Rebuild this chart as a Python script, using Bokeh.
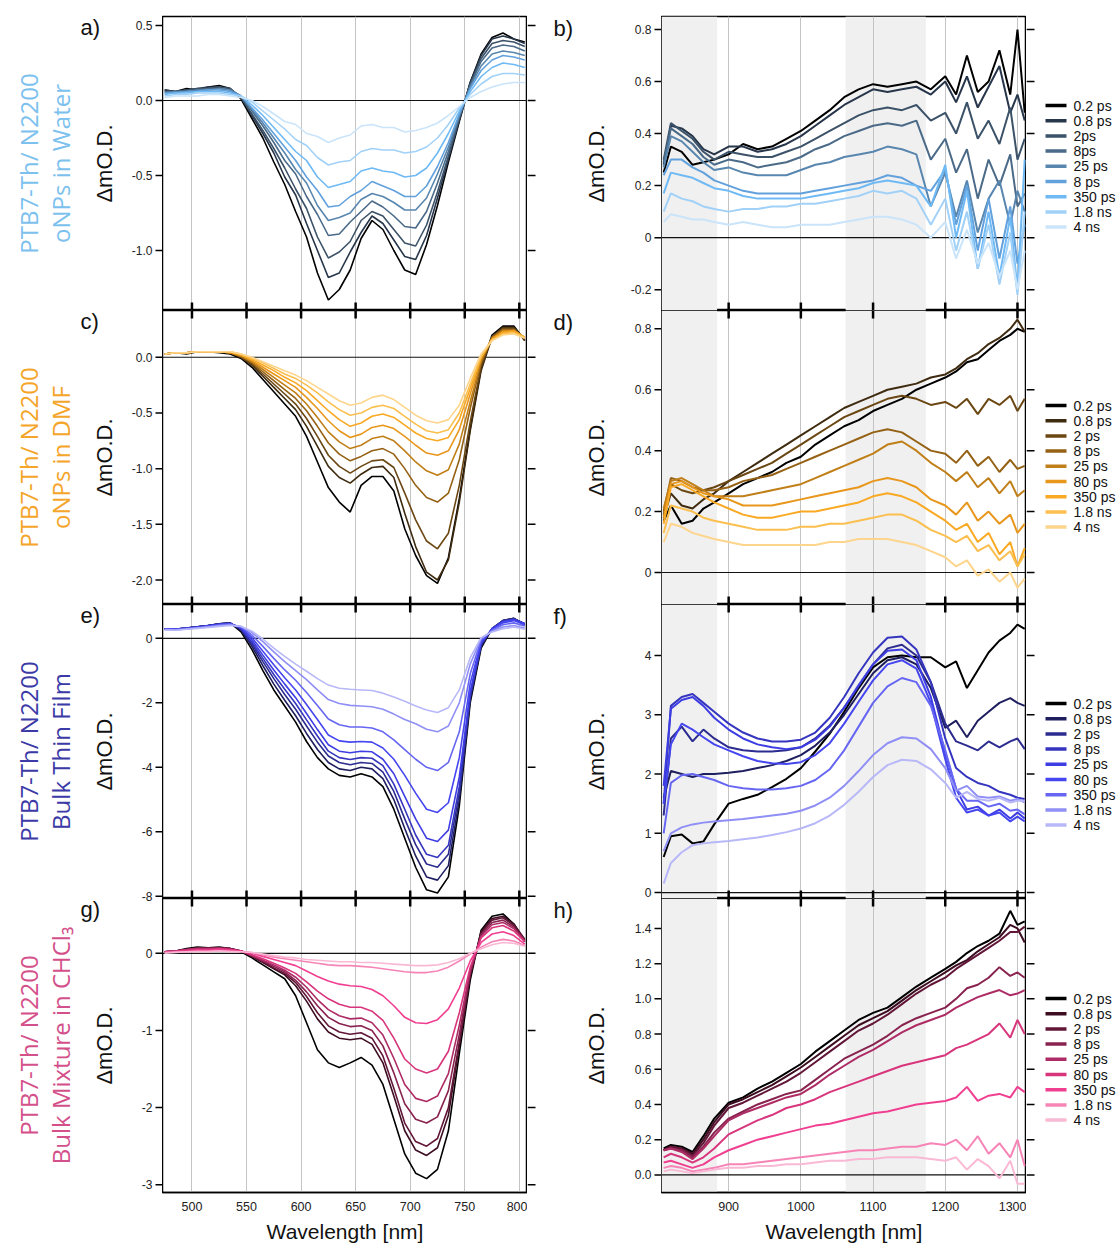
from math import pi
from bokeh.plotting import figure
from bokeh.models import Range1d, FixedTicker, Span, BoxAnnotation, Grid
from bokeh.core.properties import value
from bokeh.layouts import column, row
from bokeh.embed import file_html
from bokeh.resources import INLINE

# ---------------- data ----------------
X_L = [475, 485, 495, 505, 515, 525, 535, 545, 555, 565, 575, 585, 595, 605, 615, 625, 635,
       645, 655, 665, 675, 685, 695, 705, 715, 725, 735, 745, 755, 765, 775, 785, 795, 805]
X_R = [810, 820, 835, 850, 865, 880, 900, 920, 940, 960, 980, 1000, 1020, 1040, 1060, 1080,
       1100, 1120, 1140, 1160, 1180, 1200, 1215, 1230, 1245, 1260, 1275, 1290, 1300, 1310]

DELAYS_B = ["0.2 ps", "0.8 ps", "2ps", "8ps", "25 ps", "8 ps", "350 ps", "1.8 ns", "4 ns"]
DELAYS = ["0.2 ps", "0.8 ps", "2 ps", "8 ps", "25 ps", "80 ps", "350 ps", "1.8 ns", "4 ns"]

A_SERIES = [
    [0.07, 0.06, 0.08, 0.07, 0.09, 0.10, 0.08, 0.01, -0.12, -0.25, -0.41, -0.56, -0.74, -0.91, -1.15, -1.33, -1.26, -1.13, -0.92, -0.80, -0.86, -1.00, -1.13, -1.16, -0.96, -0.70, -0.41, -0.14, 0.12, 0.31, 0.42, 0.45, 0.41, 0.39],
    [0.07, 0.06, 0.07, 0.08, 0.09, 0.09, 0.08, 0.02, -0.10, -0.22, -0.35, -0.51, -0.63, -0.82, -1.00, -1.18, -1.15, -1.01, -0.88, -0.77, -0.82, -0.93, -1.04, -1.06, -0.90, -0.65, -0.39, -0.13, 0.12, 0.30, 0.41, 0.43, 0.41, 0.38],
    [0.06, 0.06, 0.07, 0.08, 0.08, 0.09, 0.08, 0.02, -0.09, -0.20, -0.32, -0.45, -0.59, -0.72, -0.91, -1.05, -1.01, -0.94, -0.80, -0.74, -0.77, -0.86, -0.95, -0.97, -0.83, -0.61, -0.37, -0.12, 0.11, 0.28, 0.38, 0.40, 0.39, 0.36],
    [0.06, 0.06, 0.06, 0.07, 0.08, 0.08, 0.07, 0.03, -0.07, -0.17, -0.28, -0.40, -0.49, -0.64, -0.76, -0.90, -0.89, -0.81, -0.74, -0.67, -0.71, -0.77, -0.84, -0.85, -0.74, -0.55, -0.34, -0.11, 0.10, 0.26, 0.35, 0.37, 0.36, 0.33],
    [0.05, 0.06, 0.06, 0.07, 0.07, 0.08, 0.07, 0.03, -0.06, -0.15, -0.25, -0.35, -0.46, -0.55, -0.70, -0.80, -0.78, -0.75, -0.66, -0.62, -0.64, -0.68, -0.73, -0.73, -0.65, -0.49, -0.31, -0.10, 0.09, 0.23, 0.31, 0.33, 0.32, 0.30],
    [0.05, 0.05, 0.06, 0.06, 0.07, 0.07, 0.06, 0.03, -0.05, -0.13, -0.22, -0.31, -0.40, -0.51, -0.60, -0.71, -0.70, -0.64, -0.60, -0.54, -0.57, -0.60, -0.64, -0.64, -0.57, -0.44, -0.28, -0.09, 0.08, 0.20, 0.27, 0.30, 0.29, 0.27],
    [0.04, 0.05, 0.05, 0.06, 0.06, 0.06, 0.05, 0.03, -0.03, -0.10, -0.18, -0.26, -0.34, -0.40, -0.51, -0.58, -0.56, -0.54, -0.47, -0.45, -0.47, -0.48, -0.51, -0.50, -0.45, -0.35, -0.22, -0.07, 0.06, 0.16, 0.22, 0.25, 0.24, 0.22],
    [0.03, 0.04, 0.04, 0.05, 0.05, 0.05, 0.04, 0.03, -0.01, -0.07, -0.13, -0.19, -0.26, -0.30, -0.38, -0.43, -0.41, -0.40, -0.34, -0.32, -0.33, -0.33, -0.35, -0.34, -0.31, -0.25, -0.16, -0.05, 0.04, 0.11, 0.16, 0.18, 0.18, 0.17],
    [0.02, 0.03, 0.03, 0.03, 0.04, 0.04, 0.03, 0.02, 0.00, -0.04, -0.09, -0.14, -0.16, -0.22, -0.24, -0.28, -0.25, -0.23, -0.17, -0.16, -0.18, -0.18, -0.21, -0.20, -0.18, -0.15, -0.10, -0.04, 0.02, 0.06, 0.09, 0.11, 0.12, 0.12],
]

B_SERIES = [
    [0.25, 0.35, 0.33, 0.28, 0.29, 0.30, 0.32, 0.36, 0.34, 0.35, 0.38, 0.41, 0.45, 0.49, 0.54, 0.57, 0.59, 0.58, 0.59, 0.60, 0.57, 0.62, 0.55, 0.70, 0.56, 0.60, 0.72, 0.55, 0.80, 0.48],
    [0.28, 0.43, 0.42, 0.39, 0.34, 0.32, 0.35, 0.35, 0.33, 0.34, 0.36, 0.39, 0.43, 0.47, 0.51, 0.54, 0.57, 0.56, 0.57, 0.58, 0.55, 0.60, 0.52, 0.62, 0.50, 0.58, 0.66, 0.48, 0.55, 0.45],
    [0.30, 0.44, 0.41, 0.38, 0.33, 0.30, 0.33, 0.32, 0.31, 0.31, 0.33, 0.35, 0.38, 0.41, 0.44, 0.47, 0.49, 0.50, 0.49, 0.51, 0.45, 0.48, 0.40, 0.52, 0.38, 0.45, 0.36, 0.50, 0.30, 0.38],
    [0.29, 0.42, 0.39, 0.36, 0.31, 0.28, 0.30, 0.29, 0.27, 0.28, 0.29, 0.31, 0.34, 0.36, 0.39, 0.41, 0.43, 0.44, 0.43, 0.45, 0.30, 0.38, 0.25, 0.34, 0.15, 0.30, 0.20, 0.32, 0.12, 0.17],
    [0.27, 0.39, 0.37, 0.33, 0.29, 0.26, 0.27, 0.25, 0.24, 0.24, 0.24, 0.26, 0.28, 0.29, 0.31, 0.32, 0.33, 0.35, 0.34, 0.32, 0.12, 0.25, 0.08, 0.22, 0.02, 0.15, 0.22, 0.05, 0.18, 0.10],
    [0.24, 0.30, 0.30, 0.27, 0.25, 0.22, 0.20, 0.18, 0.17, 0.17, 0.17, 0.17, 0.18, 0.19, 0.20, 0.21, 0.22, 0.24, 0.23, 0.20, 0.18, 0.26, 0.05, 0.20, -0.05, 0.15, -0.08, 0.12, -0.10, 0.05],
    [0.17, 0.25, 0.24, 0.23, 0.21, 0.19, 0.18, 0.16, 0.15, 0.15, 0.15, 0.15, 0.16, 0.17, 0.18, 0.19, 0.21, 0.22, 0.21, 0.20, 0.12, 0.28, 0.00, 0.18, -0.12, 0.10, -0.15, 0.08, -0.20, 0.30],
    [0.10, 0.17, 0.15, 0.14, 0.12, 0.11, 0.10, 0.11, 0.11, 0.12, 0.12, 0.13, 0.13, 0.14, 0.15, 0.16, 0.18, 0.17, 0.18, 0.15, 0.05, 0.15, -0.05, 0.10, -0.12, 0.05, -0.18, 0.02, -0.22, 0.10],
    [0.06, 0.09, 0.08, 0.07, 0.07, 0.06, 0.05, 0.06, 0.05, 0.04, 0.04, 0.05, 0.05, 0.05, 0.06, 0.07, 0.08, 0.08, 0.07, 0.05, 0.00, 0.06, -0.08, 0.03, -0.10, -0.02, -0.15, -0.05, -0.20, -0.05],
]

C_SERIES = [
    [0.03, 0.04, 0.03, 0.05, 0.05, 0.04, 0.03, -0.01, -0.09, -0.20, -0.31, -0.42, -0.53, -0.71, -0.94, -1.17, -1.30, -1.39, -1.15, -1.07, -1.07, -1.20, -1.54, -1.78, -1.96, -2.03, -1.80, -1.27, -0.64, -0.10, 0.20, 0.28, 0.28, 0.15],
    [0.03, 0.04, 0.04, 0.05, 0.05, 0.05, 0.04, 0.00, -0.07, -0.17, -0.27, -0.37, -0.47, -0.62, -0.80, -0.98, -1.08, -1.13, -1.05, -0.99, -0.98, -1.08, -1.40, -1.70, -1.93, -2.00, -1.82, -1.30, -0.66, -0.12, 0.18, 0.27, 0.27, 0.15],
    [0.03, 0.04, 0.04, 0.05, 0.05, 0.05, 0.04, 0.00, -0.06, -0.15, -0.24, -0.33, -0.42, -0.55, -0.71, -0.88, -0.98, -1.04, -0.98, -0.93, -0.92, -0.99, -1.22, -1.46, -1.65, -1.72, -1.58, -1.15, -0.58, -0.08, 0.18, 0.26, 0.26, 0.16],
    [0.03, 0.04, 0.04, 0.05, 0.05, 0.05, 0.04, 0.01, -0.05, -0.13, -0.21, -0.29, -0.37, -0.48, -0.62, -0.77, -0.87, -0.93, -0.89, -0.84, -0.82, -0.87, -1.00, -1.15, -1.26, -1.30, -1.22, -0.92, -0.46, -0.05, 0.18, 0.25, 0.25, 0.17],
    [0.03, 0.04, 0.04, 0.05, 0.05, 0.05, 0.04, 0.01, -0.04, -0.11, -0.18, -0.25, -0.32, -0.42, -0.54, -0.67, -0.76, -0.82, -0.79, -0.73, -0.71, -0.75, -0.84, -0.94, -1.02, -1.06, -1.01, -0.78, -0.40, -0.03, 0.17, 0.24, 0.24, 0.17],
    [0.03, 0.04, 0.04, 0.05, 0.05, 0.05, 0.04, 0.02, -0.03, -0.09, -0.15, -0.21, -0.27, -0.36, -0.46, -0.57, -0.66, -0.72, -0.69, -0.63, -0.61, -0.64, -0.71, -0.79, -0.86, -0.88, -0.84, -0.65, -0.33, -0.01, 0.17, 0.23, 0.24, 0.18],
    [0.03, 0.04, 0.04, 0.05, 0.05, 0.05, 0.05, 0.02, -0.02, -0.07, -0.12, -0.18, -0.23, -0.30, -0.39, -0.48, -0.56, -0.62, -0.59, -0.53, -0.51, -0.54, -0.61, -0.68, -0.73, -0.75, -0.72, -0.56, -0.28, 0.00, 0.16, 0.22, 0.23, 0.18],
    [0.03, 0.04, 0.04, 0.05, 0.05, 0.05, 0.05, 0.03, -0.01, -0.05, -0.10, -0.15, -0.19, -0.25, -0.32, -0.40, -0.47, -0.52, -0.50, -0.45, -0.43, -0.46, -0.53, -0.60, -0.66, -0.68, -0.65, -0.50, -0.24, 0.01, 0.15, 0.21, 0.22, 0.18],
    [0.03, 0.04, 0.04, 0.05, 0.05, 0.05, 0.05, 0.03, 0.00, -0.04, -0.08, -0.12, -0.16, -0.21, -0.27, -0.33, -0.39, -0.43, -0.41, -0.36, -0.34, -0.38, -0.45, -0.52, -0.57, -0.59, -0.56, -0.43, -0.19, 0.03, 0.15, 0.20, 0.21, 0.17],
]

D_SERIES = [
    [0.17, 0.22, 0.16, 0.17, 0.21, 0.23, 0.26, 0.29, 0.31, 0.33, 0.36, 0.38, 0.42, 0.45, 0.48, 0.50, 0.53, 0.55, 0.57, 0.60, 0.62, 0.64, 0.66, 0.69, 0.70, 0.73, 0.76, 0.78, 0.80, 0.79],
    [0.18, 0.26, 0.22, 0.21, 0.24, 0.26, 0.30, 0.33, 0.36, 0.39, 0.42, 0.45, 0.48, 0.51, 0.54, 0.56, 0.58, 0.60, 0.61, 0.62, 0.64, 0.65, 0.67, 0.70, 0.72, 0.75, 0.77, 0.80, 0.83, 0.79],
    [0.19, 0.29, 0.27, 0.26, 0.27, 0.28, 0.30, 0.32, 0.34, 0.36, 0.39, 0.42, 0.45, 0.48, 0.51, 0.53, 0.55, 0.57, 0.58, 0.57, 0.55, 0.56, 0.54, 0.57, 0.52, 0.57, 0.55, 0.58, 0.53, 0.57],
    [0.20, 0.31, 0.30, 0.28, 0.27, 0.27, 0.28, 0.30, 0.31, 0.32, 0.34, 0.36, 0.38, 0.40, 0.42, 0.44, 0.46, 0.47, 0.46, 0.43, 0.40, 0.39, 0.36, 0.40, 0.35, 0.38, 0.33, 0.37, 0.34, 0.35],
    [0.21, 0.30, 0.31, 0.29, 0.27, 0.25, 0.25, 0.25, 0.26, 0.27, 0.28, 0.29, 0.31, 0.33, 0.35, 0.37, 0.39, 0.42, 0.43, 0.40, 0.36, 0.33, 0.30, 0.33, 0.28, 0.31, 0.26, 0.30, 0.25, 0.27],
    [0.18, 0.29, 0.30, 0.28, 0.26, 0.25, 0.24, 0.22, 0.22, 0.22, 0.23, 0.24, 0.25, 0.26, 0.27, 0.28, 0.30, 0.31, 0.30, 0.28, 0.24, 0.22, 0.19, 0.23, 0.17, 0.20, 0.16, 0.19, 0.13, 0.16],
    [0.16, 0.28, 0.29, 0.27, 0.25, 0.23, 0.21, 0.19, 0.18, 0.18, 0.19, 0.20, 0.20, 0.21, 0.22, 0.23, 0.25, 0.26, 0.25, 0.23, 0.20, 0.17, 0.14, 0.16, 0.10, 0.13, 0.06, 0.10, 0.02, 0.08],
    [0.13, 0.22, 0.21, 0.20, 0.18, 0.17, 0.16, 0.15, 0.14, 0.14, 0.14, 0.15, 0.15, 0.16, 0.16, 0.17, 0.18, 0.19, 0.19, 0.17, 0.14, 0.12, 0.10, 0.12, 0.07, 0.09, 0.04, 0.07, 0.02, 0.06],
    [0.10, 0.16, 0.15, 0.13, 0.12, 0.11, 0.10, 0.09, 0.09, 0.09, 0.09, 0.09, 0.09, 0.10, 0.10, 0.11, 0.11, 0.11, 0.10, 0.09, 0.07, 0.05, 0.02, 0.04, -0.01, 0.01, -0.03, 0.00, -0.05, -0.02],
]

E_SERIES = [
    [0.30, 0.28, 0.32, 0.36, 0.40, 0.45, 0.48, 0.20, -0.35, -1.00, -1.60, -2.10, -2.60, -3.20, -3.70, -4.05, -4.25, -4.30, -4.20, -4.30, -4.60, -5.30, -6.20, -7.10, -7.80, -7.90, -7.40, -5.20, -2.00, -0.30, 0.30, 0.55, 0.62, 0.40],
    [0.30, 0.28, 0.32, 0.36, 0.40, 0.45, 0.48, 0.25, -0.25, -0.85, -1.42, -1.92, -2.40, -2.95, -3.45, -3.85, -4.05, -4.10, -4.00, -4.05, -4.35, -5.00, -5.90, -6.75, -7.40, -7.50, -7.05, -5.00, -1.90, -0.25, 0.30, 0.55, 0.62, 0.45],
    [0.30, 0.29, 0.32, 0.36, 0.40, 0.44, 0.47, 0.28, -0.18, -0.72, -1.25, -1.74, -2.20, -2.72, -3.22, -3.65, -3.85, -3.92, -3.85, -3.88, -4.15, -4.75, -5.60, -6.40, -7.00, -7.10, -6.70, -4.80, -1.80, -0.20, 0.30, 0.55, 0.60, 0.45],
    [0.30, 0.29, 0.32, 0.35, 0.40, 0.44, 0.47, 0.30, -0.12, -0.62, -1.12, -1.58, -2.02, -2.53, -3.03, -3.50, -3.70, -3.76, -3.70, -3.72, -3.95, -4.52, -5.30, -6.10, -6.70, -6.80, -6.42, -4.60, -1.75, -0.18, 0.30, 0.54, 0.60, 0.45],
    [0.30, 0.29, 0.31, 0.35, 0.39, 0.43, 0.46, 0.32, -0.05, -0.52, -0.98, -1.42, -1.84, -2.33, -2.83, -3.30, -3.50, -3.55, -3.50, -3.52, -3.75, -4.20, -4.90, -5.60, -6.20, -6.30, -5.95, -4.30, -1.65, -0.15, 0.30, 0.52, 0.58, 0.45],
    [0.29, 0.28, 0.31, 0.34, 0.38, 0.42, 0.45, 0.34, 0.02, -0.40, -0.82, -1.22, -1.60, -2.05, -2.52, -3.00, -3.18, -3.22, -3.20, -3.22, -3.40, -3.75, -4.25, -4.80, -5.30, -5.40, -5.10, -3.70, -1.40, -0.10, 0.28, 0.48, 0.55, 0.42],
    [0.28, 0.27, 0.30, 0.33, 0.37, 0.41, 0.44, 0.36, 0.10, -0.25, -0.62, -0.98, -1.30, -1.68, -2.08, -2.50, -2.68, -2.75, -2.75, -2.78, -2.90, -3.15, -3.45, -3.75, -4.00, -4.10, -3.85, -2.90, -1.10, -0.05, 0.25, 0.42, 0.48, 0.38],
    [0.27, 0.26, 0.29, 0.32, 0.35, 0.39, 0.42, 0.37, 0.18, -0.10, -0.42, -0.72, -1.00, -1.28, -1.60, -1.90, -2.02, -2.08, -2.10, -2.12, -2.20, -2.35, -2.52, -2.65, -2.82, -2.90, -2.72, -2.00, -0.80, 0.00, 0.22, 0.35, 0.40, 0.32],
    [0.26, 0.25, 0.28, 0.31, 0.34, 0.37, 0.40, 0.37, 0.22, -0.02, -0.30, -0.56, -0.80, -1.02, -1.25, -1.45, -1.55, -1.58, -1.60, -1.62, -1.70, -1.82, -1.95, -2.10, -2.22, -2.30, -2.15, -1.60, -0.60, 0.02, 0.20, 0.30, 0.35, 0.28],
]

F_SERIES = [
    [0.60, 0.95, 0.98, 0.83, 0.86, 1.15, 1.50, 1.58, 1.65, 1.78, 1.92, 2.10, 2.38, 2.68, 3.05, 3.45, 3.80, 3.97, 4.00, 3.97, 3.97, 3.80, 3.90, 3.45, 3.75, 4.05, 4.25, 4.38, 4.52, 4.45],
    [1.60, 2.05, 2.00, 1.95, 2.00, 2.00, 2.02, 2.05, 2.10, 2.15, 2.22, 2.32, 2.48, 2.70, 3.00, 3.35, 3.70, 3.92, 3.97, 3.85, 3.45, 2.78, 2.90, 2.62, 2.90, 3.05, 3.20, 3.28, 3.20, 3.15],
    [1.30, 2.60, 2.80, 2.55, 2.75, 2.60, 2.45, 2.40, 2.38, 2.38, 2.40, 2.45, 2.60, 2.82, 3.12, 3.48, 3.85, 4.12, 4.18, 4.00, 3.55, 2.85, 2.55, 2.48, 2.40, 2.55, 2.45, 2.55, 2.60, 2.42],
    [1.50, 3.15, 3.30, 3.35, 3.20, 3.05, 2.85, 2.70, 2.60, 2.55, 2.55, 2.58, 2.70, 2.95, 3.30, 3.70, 4.05, 4.30, 4.32, 4.10, 3.55, 2.60, 2.10, 1.95, 1.85, 1.80, 1.70, 1.65, 1.60, 1.58],
    [1.80, 3.10, 3.25, 3.30, 3.15, 2.95, 2.75, 2.60, 2.50, 2.45, 2.42, 2.45, 2.58, 2.80, 3.12, 3.50, 3.85, 4.08, 4.10, 3.92, 3.30, 2.35, 1.75, 1.40, 1.45, 1.30, 1.40, 1.25, 1.35, 1.25],
    [1.50, 2.50, 2.85, 2.75, 2.62, 2.50, 2.40, 2.30, 2.22, 2.18, 2.17, 2.20, 2.32, 2.52, 2.85, 3.22, 3.58, 3.85, 3.92, 3.78, 3.20, 2.25, 1.60, 1.35, 1.40, 1.30, 1.35, 1.20, 1.28, 1.20],
    [1.00, 1.85, 1.98, 2.00, 1.95, 1.90, 1.80, 1.76, 1.74, 1.74, 1.76, 1.80, 1.90, 2.08, 2.40, 2.80, 3.20, 3.48, 3.62, 3.55, 3.15, 2.40, 1.75, 1.55, 1.55, 1.45, 1.50, 1.38, 1.40, 1.32],
    [0.70, 1.00, 1.10, 1.15, 1.18, 1.20, 1.22, 1.24, 1.27, 1.30, 1.33, 1.38, 1.47, 1.60, 1.80, 2.05, 2.32, 2.52, 2.62, 2.60, 2.42, 2.10, 1.72, 1.80, 1.62, 1.60, 1.62, 1.55, 1.58, 1.52],
    [0.15, 0.50, 0.68, 0.80, 0.83, 0.85, 0.87, 0.90, 0.93, 0.97, 1.02, 1.08, 1.17, 1.30, 1.48, 1.70, 1.95, 2.15, 2.24, 2.22, 2.08, 1.85, 1.60, 1.70, 1.58, 1.55, 1.60, 1.52, 1.55, 1.55],
]

G_SERIES = [
    [0.02, 0.03, 0.06, 0.08, 0.07, 0.08, 0.06, 0.02, -0.06, -0.15, -0.24, -0.33, -0.55, -0.90, -1.25, -1.42, -1.48, -1.42, -1.35, -1.45, -1.70, -2.15, -2.60, -2.85, -2.92, -2.80, -2.30, -1.30, -0.35, 0.30, 0.48, 0.51, 0.38, 0.15],
    [0.02, 0.03, 0.05, 0.07, 0.07, 0.07, 0.06, 0.03, -0.04, -0.12, -0.20, -0.28, -0.42, -0.62, -0.85, -1.02, -1.10, -1.12, -1.10, -1.18, -1.42, -1.85, -2.30, -2.55, -2.62, -2.52, -2.10, -1.20, -0.30, 0.28, 0.45, 0.48, 0.38, 0.18],
    [0.02, 0.03, 0.05, 0.07, 0.06, 0.07, 0.06, 0.03, -0.04, -0.11, -0.19, -0.26, -0.38, -0.56, -0.77, -0.94, -1.02, -1.05, -1.03, -1.10, -1.33, -1.75, -2.20, -2.44, -2.50, -2.40, -2.00, -1.15, -0.28, 0.26, 0.43, 0.46, 0.36, 0.18],
    [0.02, 0.03, 0.05, 0.06, 0.06, 0.07, 0.06, 0.03, -0.03, -0.10, -0.17, -0.24, -0.35, -0.50, -0.68, -0.83, -0.91, -0.95, -0.94, -1.00, -1.20, -1.55, -1.95, -2.15, -2.20, -2.12, -1.78, -1.05, -0.25, 0.24, 0.40, 0.43, 0.34, 0.17],
    [0.02, 0.03, 0.05, 0.06, 0.06, 0.06, 0.05, 0.03, -0.03, -0.09, -0.15, -0.22, -0.31, -0.44, -0.60, -0.73, -0.81, -0.85, -0.84, -0.90, -1.06, -1.36, -1.70, -1.88, -1.92, -1.85, -1.56, -0.93, -0.22, 0.22, 0.37, 0.40, 0.32, 0.16],
    [0.02, 0.03, 0.04, 0.05, 0.05, 0.06, 0.05, 0.03, -0.02, -0.07, -0.13, -0.19, -0.26, -0.37, -0.49, -0.59, -0.66, -0.70, -0.70, -0.75, -0.87, -1.10, -1.37, -1.50, -1.55, -1.50, -1.27, -0.77, -0.18, 0.20, 0.33, 0.36, 0.29, 0.15],
    [0.01, 0.02, 0.03, 0.04, 0.04, 0.05, 0.04, 0.03, 0.00, -0.04, -0.08, -0.12, -0.16, -0.23, -0.30, -0.36, -0.40, -0.42, -0.43, -0.47, -0.55, -0.68, -0.83, -0.90, -0.91, -0.86, -0.72, -0.45, -0.10, 0.14, 0.25, 0.28, 0.23, 0.12],
    [0.01, 0.02, 0.02, 0.03, 0.03, 0.03, 0.03, 0.02, 0.01, -0.02, -0.05, -0.07, -0.09, -0.11, -0.13, -0.15, -0.16, -0.16, -0.17, -0.18, -0.20, -0.22, -0.24, -0.25, -0.25, -0.23, -0.18, -0.10, -0.01, 0.08, 0.15, 0.18, 0.16, 0.10],
    [0.00, 0.01, 0.02, 0.02, 0.02, 0.03, 0.02, 0.02, 0.01, -0.01, -0.03, -0.05, -0.06, -0.08, -0.09, -0.10, -0.11, -0.11, -0.12, -0.12, -0.13, -0.14, -0.15, -0.16, -0.16, -0.15, -0.12, -0.07, 0.00, 0.06, 0.11, 0.14, 0.13, 0.09],
]

H_SERIES = [
    [0.15, 0.17, 0.16, 0.13, 0.22, 0.32, 0.41, 0.44, 0.49, 0.53, 0.58, 0.63, 0.70, 0.76, 0.82, 0.88, 0.92, 0.95, 1.01, 1.07, 1.12, 1.17, 1.21, 1.26, 1.30, 1.33, 1.37, 1.50, 1.42, 1.44],
    [0.14, 0.16, 0.15, 0.12, 0.20, 0.30, 0.40, 0.43, 0.47, 0.51, 0.56, 0.61, 0.67, 0.73, 0.79, 0.85, 0.89, 0.93, 0.99, 1.05, 1.10, 1.15, 1.19, 1.22, 1.27, 1.31, 1.35, 1.42, 1.40, 1.32],
    [0.14, 0.16, 0.15, 0.11, 0.18, 0.28, 0.38, 0.41, 0.45, 0.49, 0.53, 0.58, 0.64, 0.70, 0.76, 0.82, 0.86, 0.91, 0.97, 1.03, 1.08, 1.12, 1.17, 1.21, 1.25, 1.29, 1.33, 1.38, 1.38, 1.41],
    [0.14, 0.15, 0.14, 0.10, 0.16, 0.24, 0.32, 0.36, 0.40, 0.43, 0.46, 0.48, 0.54, 0.60, 0.66, 0.70, 0.74, 0.79, 0.85, 0.89, 0.92, 0.95, 1.00, 1.06, 1.08, 1.12, 1.18, 1.13, 1.15, 1.12],
    [0.14, 0.15, 0.13, 0.09, 0.15, 0.22, 0.31, 0.35, 0.38, 0.41, 0.44, 0.46, 0.51, 0.57, 0.62, 0.67, 0.71, 0.76, 0.81, 0.85, 0.88, 0.91, 0.95, 0.98, 1.01, 1.03, 1.05, 1.02, 1.03, 1.05],
    [0.10, 0.12, 0.10, 0.07, 0.10, 0.15, 0.23, 0.27, 0.31, 0.34, 0.38, 0.40, 0.43, 0.47, 0.50, 0.53, 0.56, 0.59, 0.62, 0.64, 0.66, 0.68, 0.72, 0.74, 0.77, 0.80, 0.86, 0.78, 0.88, 0.80],
    [0.07, 0.08, 0.06, 0.04, 0.06, 0.10, 0.14, 0.17, 0.20, 0.22, 0.24, 0.26, 0.28, 0.29, 0.31, 0.33, 0.35, 0.36, 0.38, 0.40, 0.41, 0.42, 0.44, 0.50, 0.42, 0.45, 0.46, 0.44, 0.50, 0.47],
    [0.04, 0.05, 0.04, 0.02, 0.03, 0.04, 0.06, 0.06, 0.07, 0.08, 0.09, 0.10, 0.11, 0.12, 0.13, 0.14, 0.14, 0.15, 0.16, 0.16, 0.18, 0.17, 0.20, 0.14, 0.22, 0.12, 0.18, 0.10, 0.20, 0.05],
    [0.02, 0.03, 0.02, 0.01, 0.02, 0.03, 0.04, 0.04, 0.05, 0.05, 0.06, 0.06, 0.07, 0.08, 0.08, 0.09, 0.09, 0.10, 0.10, 0.10, 0.09, 0.08, 0.10, 0.03, 0.09, 0.05, -0.02, 0.08, -0.05, -0.05],
]

X_TICKS_L = [500, 550, 600, 650, 700, 750, 800]
X_TICKS_R = [900, 1000, 1100, 1200, 1300]
BANDS = [(None, 884), (1062, 1173)]   # shaded spectral regions (nm)

A_TICKS, A_TICK_LABELS = [0.5, 0.0, -0.5, -1.0], ["0.5", "0.0", "-0.5", "-1.0"]
B_TICKS, B_TICK_LABELS = [0.8, 0.6, 0.4, 0.2, 0.0, -0.2], ["0.8", "0.6", "0.4", "0.2", "0", "-0.2"]
C_TICKS, C_TICK_LABELS = [0.0, -0.5, -1.0, -1.5, -2.0], ["0.0", "-0.5", "-1.0", "-1.5", "-2.0"]
D_TICKS, D_TICK_LABELS = [0.8, 0.6, 0.4, 0.2, 0.0], ["0.8", "0.6", "0.4", "0.2", "0"]
E_TICKS, E_TICK_LABELS = [0, -2, -4, -6, -8], ["0", "-2", "-4", "-6", "-8"]
F_TICKS, F_TICK_LABELS = [4, 3, 2, 1, 0], ["4", "3", "2", "1", "0"]
G_TICKS, G_TICK_LABELS = [0, -1, -2, -3], ["0", "-1", "-2", "-3"]
H_TICKS, H_TICK_LABELS = [1.4, 1.2, 1.0, 0.8, 0.6, 0.4, 0.2, 0.0], ["1.4", "1.2", "1.0", "0.8", "0.6", "0.4", "0.2", "0.0"]

ROW_TITLES = [("PTB7-Th/ N2200", "oNPs in Water"), ("PTB7-Th/ N2200", "oNPs in DMF"),
              ("PTB7-Th/ N2200", "Bulk Thin Film"), ("PTB7-Th/ N2200", "Bulk Mixture in CHCl\u2083")]
LETTERS_L = ["a)", "c)", "e)", "g)"]
LETTERS_R = ["b)", "d)", "f)", "h)"]

# ---------------- styles / geometry ----------------
BLUE = ["#000000", "#27364a", "#3b5268", "#4a6a88", "#5886ae", "#62a1dc", "#6fbaf5", "#a2d1f8", "#cae4fa"]
ORANGE = ["#000000", "#3f2b10", "#6b4713", "#956215", "#c07f18", "#e8971c", "#f9a923", "#fbbf4f", "#fdd58c"]
INDIGO = ["#000000", "#1f1f60", "#2b2b90", "#3535bf", "#3d3de3", "#4646f0", "#6666f3", "#8f8ff6", "#b8b8f9"]
PINK = ["#000000", "#3d0d21", "#621638", "#88224f", "#ae2c65", "#d8357d", "#f03f91", "#f684b7", "#f9b9d5"]
ROW_COLORS = ["#7cc1ee", "#f4a52a", "#3b3aa6", "#d4508a"]

FONT = "Liberation Sans"
W_TOT, H_TOT = 1120, 1246
FR_W, FR_H = 365, 294
TOPS = [16, 310, 604, 898]
LX0, LX1 = 162, 527
RX0, RX1 = 661, 1026
BOT_BORDER = H_TOT - (TOPS[3] + FR_H)
XR_L = (473, 807.5)
XR_R = (807, 1312.5)

LEFT = [
    (XR_L, (-1.40, 0.56), A_TICKS, A_TICK_LABELS, A_SERIES, BLUE),
    (XR_L, (-2.22, 0.42), C_TICKS, C_TICK_LABELS, C_SERIES, ORANGE),
    (XR_L, (-8.07, 1.05), E_TICKS, E_TICK_LABELS, E_SERIES, INDIGO),
    (XR_L, (-3.10, 0.71), G_TICKS, G_TICK_LABELS, G_SERIES, PINK),
]
RIGHT = [
    (XR_R, (-0.28, 0.85), B_TICKS, B_TICK_LABELS, B_SERIES, BLUE, DELAYS_B),
    (XR_R, (-0.105, 0.86), D_TICKS, D_TICK_LABELS, D_SERIES, ORANGE, DELAYS),
    (XR_R, (-0.10, 4.86), F_TICKS, F_TICK_LABELS, F_SERIES, INDIGO, DELAYS),
    (XR_R, (-0.10, 1.57), H_TICKS, H_TICK_LABELS, H_SERIES, PINK, DELAYS),
]


def Y(page_y):
    return H_TOT - page_y


def tick_page_y(v, yr, rowi):
    lo, hi = yr
    return TOPS[rowi] + (hi - v) / (hi - lo) * FR_H


def label_fig(x0, x1):
    p = figure(width=x1 - x0, height=H_TOT, x_range=Range1d(x0, x1), y_range=Range1d(0, H_TOT),
               output_backend="svg", toolbar_location=None, x_axis_location=None,
               y_axis_location=None, min_border=0)
    p.outline_line_color = None
    p.grid.visible = False
    return p


def panel_fig(rowi, xr, yr, xticks, series, colors, lw, bands):
    top = rowi == 0
    bottom = rowi == 3
    h = FR_H + (TOPS[0] if top else 0) + (BOT_BORDER if bottom else 0)
    p = figure(width=FR_W, height=h, x_range=Range1d(*xr), y_range=Range1d(*yr),
               output_backend="svg", toolbar_location=None,
               x_axis_location="below" if bottom else None, y_axis_location=None,
               min_border_left=0, min_border_right=0,
               min_border_top=TOPS[0] if top else 0, min_border_bottom=BOT_BORDER if bottom else 0)
    p.grid.visible = False
    p.outline_line_color = "black"
    p.outline_line_width = 1.5
    xt = FixedTicker(ticks=xticks)
    if bottom:
        xa = p.xaxis[0]
        xa.ticker = xt
        xa.major_tick_in = 0
        xa.major_tick_out = 0
        xa.minor_tick_in = 0
        xa.minor_tick_out = 0
        xa.axis_line_width = 1.5
        xa.major_label_text_font = FONT
        xa.major_label_text_font_size = "12.5px"
        xa.major_label_text_color = "#222222"
        xa.major_label_standoff = 9
        xa.axis_label = "Wavelength [nm]"
        xa.axis_label_text_font = FONT
        xa.axis_label_text_font_size = "21px"
        xa.axis_label_text_font_style = "normal"
        xa.axis_label_text_color = "#111111"
        xa.axis_label_standoff = 6
    for b in bands:
        if b[0] is None:
            p.add_layout(BoxAnnotation(right=b[1], fill_color="#f0f0f0", fill_alpha=1,
                                       line_alpha=0, level="underlay"))
        else:
            p.add_layout(BoxAnnotation(left=b[0], right=b[1], fill_color="#f0f0f0", fill_alpha=1,
                                       line_alpha=0, level="underlay"))
    p.add_layout(Grid(dimension=0, ticker=xt, grid_line_color="#c4c4c4", grid_line_width=1))
    p.add_layout(Span(location=0, dimension="width", line_color="#111111", line_width=1.2,
                      level="underlay"))
    xs = X_L if xr == XR_L else X_R
    for s, c in zip(series, colors):
        p.line(xs, s, line_color=c, line_width=lw)
    # inner tick marks on shared boundaries
    lo, hi = yr
    d = 8.0 / FR_H * (hi - lo)
    if not bottom:
        p.segment(x0=xticks, y0=[lo] * len(xticks), x1=xticks, y1=[lo + d] * len(xticks),
                  line_color="black", line_width=2.5)
    if not top:
        p.segment(x0=xticks, y0=[hi] * len(xticks), x1=xticks, y1=[hi - d] * len(xticks),
                  line_color="black", line_width=2.5)
    return p


# ---- panels ----
left_figs = [panel_fig(i, xr, yr, X_TICKS_L, s, c, 1.6, []) for i, (xr, yr, t, tl, s, c) in enumerate(LEFT)]
right_figs = [panel_fig(i, xr, yr, X_TICKS_R, s, c, 2.0, BANDS) for i, (xr, yr, t, tl, s, c, n) in enumerate(RIGHT)]

# ---- left text column ----
pl = label_fig(0, LX0)
tx, ty, tt = [], [], []
sx0, sy0, sx1 = [], [], []
for i, (xr, yr, ticks, labels, s, c) in enumerate(LEFT):
    for v, lab in zip(ticks, labels):
        yy = tick_page_y(v, yr, i)
        tx.append(LX0 - 10); ty.append(Y(yy)); tt.append(lab)
        sx0.append(LX0 - 7); sy0.append(Y(yy)); sx1.append(LX0)
    cy = Y(TOPS[i] + FR_H / 2)
    l1, l2 = ROW_TITLES[i]
    pl.text(x=[28, 60], y=[cy, cy], text=[l1, l2], angle=pi / 2, text_align="center",
            text_baseline="middle", text_font=value("Open Sans"), text_font_size=value("24px"),
            text_color=ROW_COLORS[i])
    pl.text(x=[104], y=[cy], text=["\u0394mO.D."], angle=pi / 2, text_align="center",
            text_baseline="middle", text_font=value(FONT), text_font_size=value("22px"),
            text_color="#111111")
    pl.text(x=[80], y=[Y(TOPS[i] + 11)], text=[LETTERS_L[i]], text_align="left",
            text_baseline="middle", text_font=value(FONT), text_font_size=value("22px"),
            text_color="#111111")
pl.text(x=tx, y=ty, text=tt, text_align="right", text_baseline="middle",
        text_font=value(FONT), text_font_size=value("12px"), text_color="#222222")
pl.segment(x0=sx0, y0=sy0, x1=sx1, y1=sy0, line_color="black", line_width=1.5)

# ---- middle text column ----
pm = label_fig(LX1, RX0)
tx, ty, tt = [], [], []
sx0, sy0, sx1 = [], [], []
for i, (xr, yr, ticks, labels, s, c) in enumerate(LEFT):
    for v in ticks:
        yy = Y(tick_page_y(v, yr, i))
        sx0.append(LX1); sy0.append(yy); sx1.append(LX1 + 8)
for i, (xr, yr, ticks, labels, s, c, n) in enumerate(RIGHT):
    for v, lab in zip(ticks, labels):
        yy = Y(tick_page_y(v, yr, i))
        tx.append(RX0 - 10); ty.append(yy); tt.append(lab)
        sx0.append(RX0 - 7); sy0.append(yy); sx1.append(RX0)
    cy = Y(TOPS[i] + FR_H / 2)
    pm.text(x=[596], y=[cy], text=["\u0394mO.D."], angle=pi / 2, text_align="center",
            text_baseline="middle", text_font=value(FONT), text_font_size=value("22px"),
            text_color="#111111")
    pm.text(x=[553], y=[Y(TOPS[i] + 12)], text=[LETTERS_R[i]], text_align="left",
            text_baseline="middle", text_font=value(FONT), text_font_size=value("22px"),
            text_color="#111111")
pm.text(x=tx, y=ty, text=tt, text_align="right", text_baseline="middle",
        text_font=value(FONT), text_font_size=value("12px"), text_color="#222222")
pm.segment(x0=sx0, y0=sy0, x1=sx1, y1=sy0, line_color="black", line_width=1.5)

# ---- right column: outer ticks + legends ----
pr = label_fig(RX1, W_TOT)
sx0, sy0, sx1 = [], [], []
LEG_FIRST = [105, 405, 703, 998]
for i, (xr, yr, ticks, labels, s, c, names) in enumerate(RIGHT):
    for v in ticks:
        yy = Y(tick_page_y(v, yr, i))
        sx0.append(RX1); sy0.append(yy); sx1.append(RX1 + 8)
    ys = [Y(LEG_FIRST[i] + k * 15.2) for k in range(len(names))]
    pr.segment(x0=[1045] * len(names), y0=ys, x1=[1066] * len(names), y1=ys,
               line_color=c, line_width=3.5)
    pr.text(x=[1073] * len(names), y=ys, text=names, text_align="left", text_baseline="middle",
            text_font=value(FONT), text_font_size=value("14px"), text_color="#111111")
pr.segment(x0=sx0, y0=sy0, x1=sx1, y1=sy0, line_color="black", line_width=1.5)

layout = row(pl, column(*left_figs), pm, column(*right_figs), pr)
open("out.html", "w").write(file_html(layout, INLINE, title="TA spectra"))
